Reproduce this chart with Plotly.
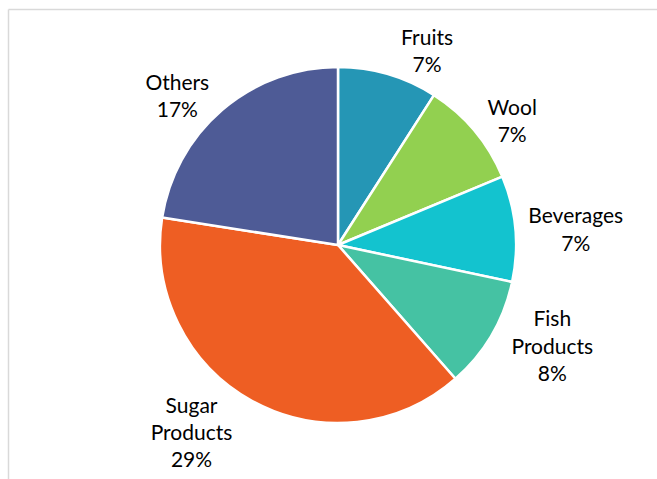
import plotly.graph_objects as go

categories = ["Fruits", "Wool", "Beverages", "Fish<br>Products", "Sugar<br>Products", "Others"]
shares = [6.8, 7.25, 7.2, 7.65, 29.2, 16.9]  # percent of total exports
pct_labels = ["7%", "7%", "7%", "8%", "29%", "17%"]
colors = ["#2596B5", "#92D050", "#13C3CF", "#45C2A3", "#EE5E23", "#4E5B96"]

fig = go.Figure(go.Pie(
    labels=categories,
    values=shares,
    text=pct_labels,
    texttemplate="%{label}<br>%{text}",
    textposition="outside",
    textfont=dict(family="Lato, Open Sans, sans-serif", size=21, color="#000000"),
    marker=dict(colors=colors, line=dict(color="#FFFFFF", width=2.5)),
    sort=False,
    direction="clockwise",
    rotation=0,
    showlegend=False,
    domain=dict(x=[(338 - 178) / 657, (338 + 178) / 657], y=[0, 1]),
    hoverinfo="label+text",
))

top = 1 + (67 - 9.5) / 356
bottom = -56 / 356
fig.update_layout(
    width=657, height=479,
    autosize=False,
    margin=dict(l=0, r=0, t=67, b=56),
    paper_bgcolor="#FFFFFF",
    plot_bgcolor="#FFFFFF",
    shapes=[
        dict(type="line", xref="paper", yref="paper",
             x0=8.5 / 657, x1=1.0, y0=top, y1=top,
             line=dict(color="#D9D9D9", width=1.5), layer="below"),
        dict(type="line", xref="paper", yref="paper",
             x0=8.5 / 657, x1=8.5 / 657, y0=bottom, y1=top,
             line=dict(color="#D9D9D9", width=1.5), layer="below"),
    ],
)

fig.write_html("out.html", config={"displayModeBar": False},
               default_width="657px", default_height="479px")
